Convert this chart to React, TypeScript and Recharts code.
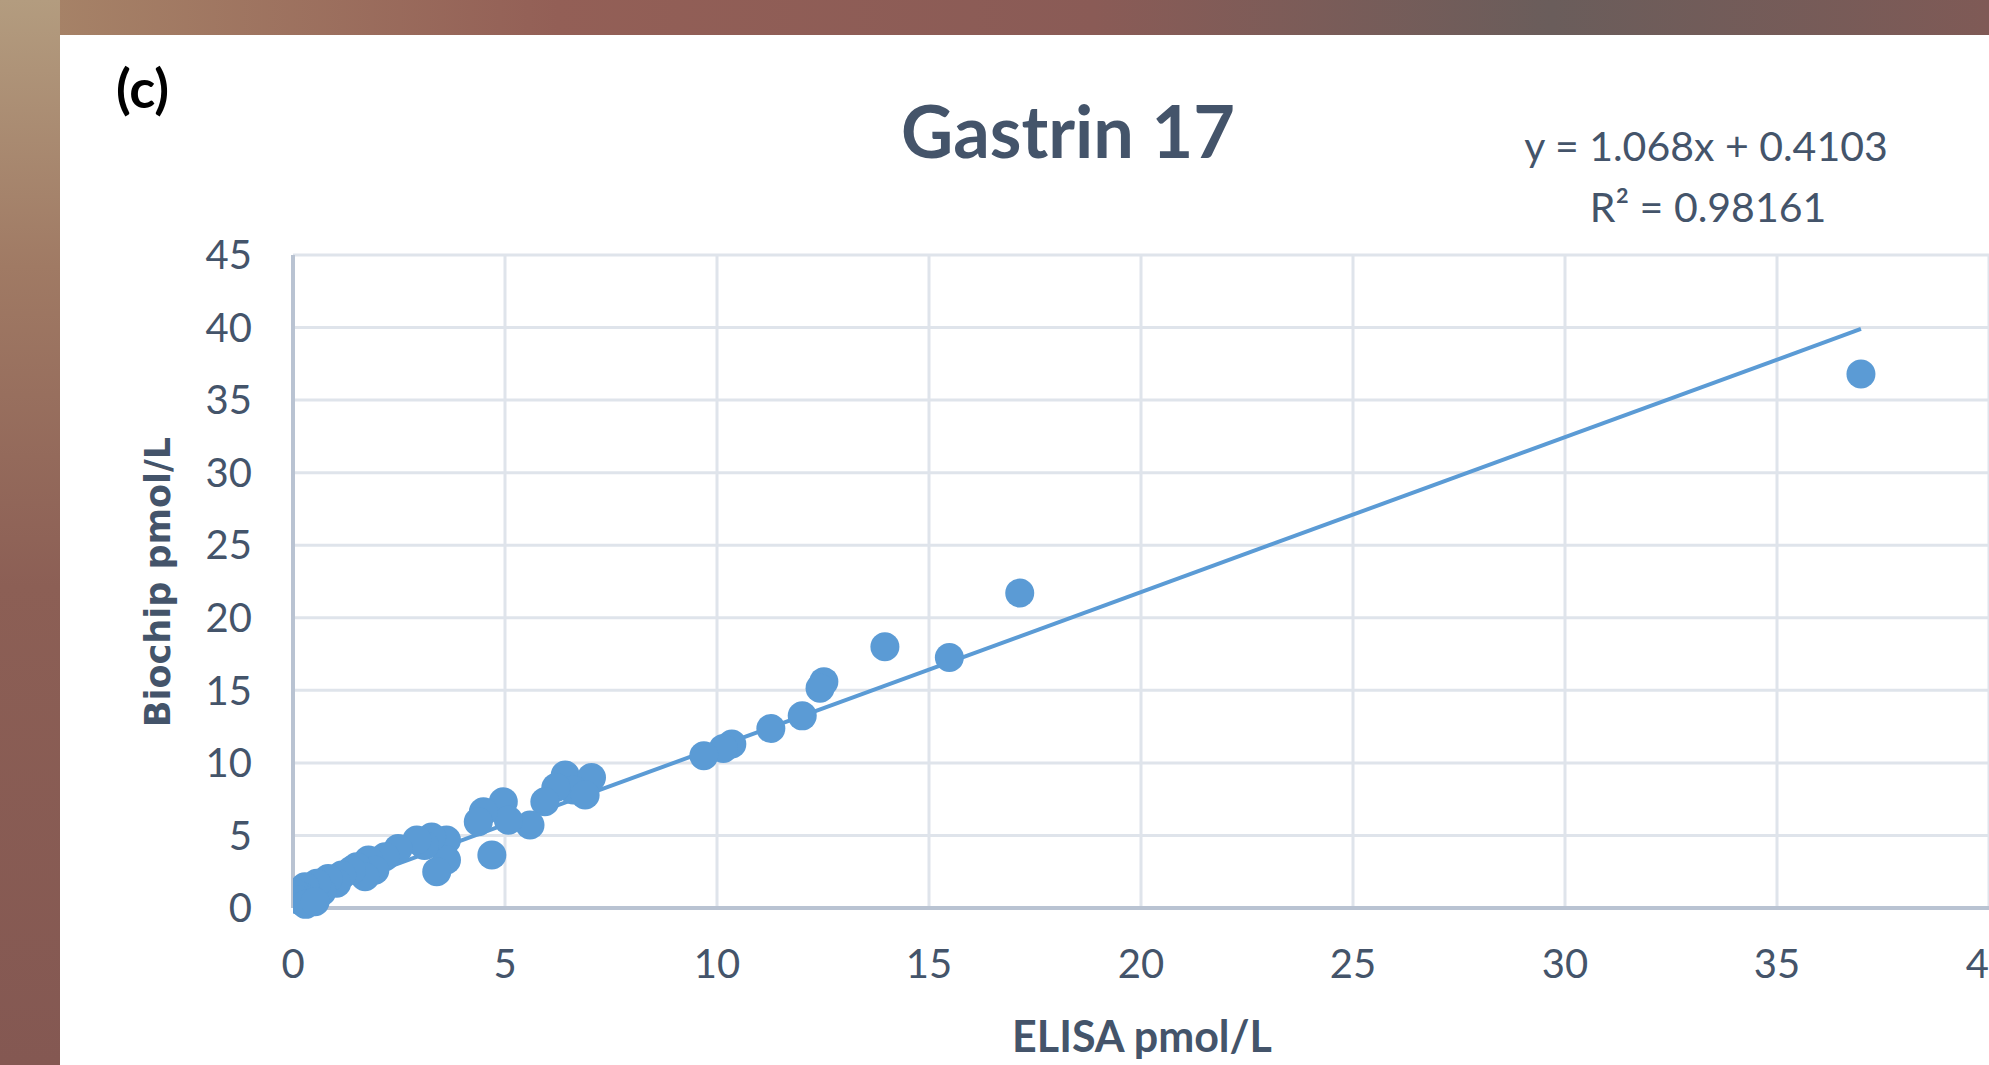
import { ScatterChart, Scatter, XAxis, YAxis, CartesianGrid } from 'recharts'

// ELISA (x) vs Biochip (y), pmol/L
const elisa = [
  36.98, 17.14, 13.96, 15.48, 12.52, 12.43, 12.01, 11.27, 10.35, 10.15,
  9.69, 6.42, 7.04, 6.61, 6.89, 6.2, 5.94, 5.59, 4.96, 5.08,
  4.49, 4.37, 4.69, 3.62, 3.62, 3.39, 3.27, 3.1, 2.92, 2.48,
  2.17, 1.78, 1.93, 1.5, 1.7, 1.38, 1.15, 1.03, 0.83, 0.68,
  0.56, 0.28, 0.2, 0.05, 0.13, 0.3, 0.52,
]
const biochip = [
  36.8, 21.7, 18.0, 17.27, 15.6, 15.15, 13.24, 12.37, 11.3, 11.0,
  10.5, 9.16, 9.0, 8.13, 7.78, 8.3, 7.32, 5.72, 7.32, 6.05,
  6.63, 5.94, 3.65, 4.68, 3.3, 2.5, 4.9, 4.3, 4.68, 4.1,
  3.53, 3.3, 2.6, 2.84, 2.16, 2.6, 2.27, 1.7, 2.04, 1.12,
  1.7, 1.47, 0.8, 1.01, 0.55, 0.25, 0.43,
]

const xTicks = [0, 5, 10, 15, 20, 25, 30, 35, 40]
const yTicks = [0, 5, 10, 15, 20, 25, 30, 35, 40, 45]

// Excel linear trendline as printed on the chart
const slope = 1.068
const intercept = 0.4103
const equationText = 'y = 1.068x + 0.4103'
const r2Text = 'R² = 0.98161'

const points = elisa.map((x, i) => ({ x, y: biochip[i] }))
const xMin = Math.min(...elisa)
const xMax = Math.max(...elisa)
const trend = [
  { x: xMin, y: slope * xMin + intercept },
  { x: xMax, y: slope * xMax + intercept },
]

const BLUE = '#5B9BD5'
const TEXT = '#44546A'
const GRID = '#DFE4EB'
const AXIS = '#B9C3D2'

const Dot = (p: any) => <circle cx={p.cx} cy={p.cy} r={14.5} fill={BLUE} />
const NoDot = () => <g />

export default function App() {
  return (
    <div style={{ position: 'fixed', left: 0, top: 0, width: 1989, height: 1065, overflow: 'hidden' }}>
      {/* photo background round the card */}
      <div
        style={{
          position: 'absolute', inset: 0,
          background:
            'linear-gradient(90deg, #A88669 0%, #935F56 28%, #8A5B56 55%, #6A5D5B 78%, #7F5A56 100%)',
        }}
      />
      <div
        style={{
          position: 'absolute', left: 0, top: 0, width: 60, height: 1065,
          background: 'linear-gradient(180deg, #B39C7F 0%, #A07A64 25%, #8C5F55 55%, #845852 100%)',
        }}
      />
      <div style={{ position: 'absolute', left: 60, top: 35, right: 0, bottom: 0, background: '#fff' }} />

      <div style={{ position: 'absolute', left: 0, top: 0 }}>
        <ScatterChart width={1989} height={1065} margin={{ top: 255, right: 0, bottom: 0, left: 60 }}>
          <CartesianGrid stroke={GRID} strokeWidth={3} />
          <XAxis
            type="number"
            dataKey="x"
            domain={[0, 40]}
            ticks={xTicks}
            interval={0}
            height={157}
            tickLine={false}
            tickSize={0}
            tickMargin={42}
            axisLine={{ stroke: AXIS, strokeWidth: 4 }}
            tick={{ fill: TEXT, fontSize: 40, fontFamily: 'Lato' }}
            allowDataOverflow
          />
          <YAxis
            type="number"
            dataKey="y"
            domain={[0, 45]}
            ticks={yTicks}
            interval={0}
            width={233}
            tickLine={false}
            tickSize={0}
            tickMargin={41}
            axisLine={{ stroke: AXIS, strokeWidth: 4 }}
            tick={{ fill: TEXT, fontSize: 40, fontFamily: 'Lato' }}
          />
          <Scatter
            data={trend}
            line={{ stroke: BLUE, strokeWidth: 4 }}
            shape={NoDot}
            isAnimationActive={false}
          />
          <Scatter data={points} shape={Dot} isAnimationActive={false} />
        </ScatterChart>
      </div>

      <svg
        width={1989}
        height={1065}
        style={{ position: 'absolute', left: 0, top: 0, pointerEvents: 'none' }}
      >
        <text x={116} y={108} fontFamily="Lato" fontWeight={700} fontSize={54} fill="#000">
          (c)
        </text>
        <text x={1068} y={158} textAnchor="middle" fontFamily="Lato" fontWeight={700} fontSize={72} fill={TEXT}>
          Gastrin 17
        </text>
        <text x={1706} y={161} textAnchor="middle" fontFamily="Lato" fontSize={41} fill={TEXT}>
          {equationText}
        </text>
        <text x={1708} y={222} textAnchor="middle" fontFamily="Lato" fontSize={41} fill={TEXT}>
          {r2Text}
        </text>
        <text x={1142} y={1052} textAnchor="middle" fontFamily="Lato" fontWeight={700} fontSize={43} fill={TEXT}>
          ELISA pmol/L
        </text>
        <text
          x={170}
          y={582}
          textAnchor="middle"
          transform="rotate(-90 170 582)"
          fontFamily="DejaVu Sans"
          fontWeight={700}
          fontSize={35}
          fill={TEXT}
        >
          Biochip pmol/L
        </text>
      </svg>
    </div>
  )
}
